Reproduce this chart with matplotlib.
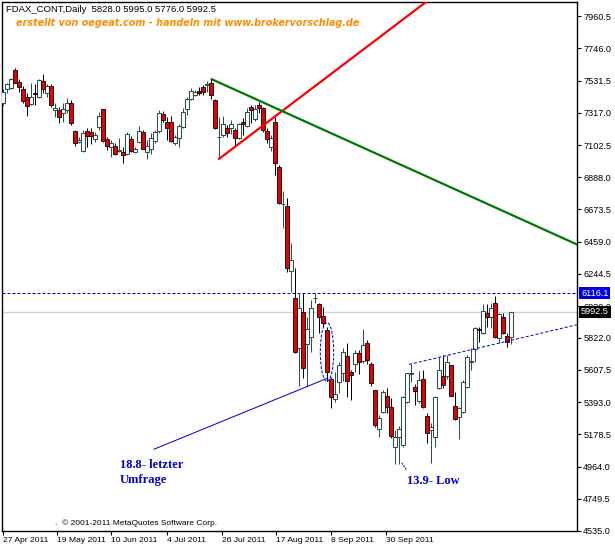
import matplotlib
matplotlib.use("Agg")
import matplotlib.pyplot as plt
from matplotlib.patches import Ellipse
import numpy as np

# FDAX daily candles (bar index 0..127)
opens = [7382, 7477, 7482, 7601, 7522, 7475, 7422, 7375, 7448, 7422,
         7528, 7448, 7495, 7335, 7335, 7315, 7335, 7382, 7196, 7125,
         7063, 7196, 7189, 7142, 7222, 7342, 7142, 7089, 7096, 7063,
         7056, 7043, 7142, 7056, 7123, 7189, 7056, 7076, 7129, 7196,
         7309, 7256, 7256, 7116, 7149, 7222, 7342, 7409, 7435, 7462,
         7488, 7502, 7515, 7402, 7156, 7169, 7216, 7216, 7202, 7149,
         7256, 7229, 7355, 7276, 7369, 7349, 7196, 7089, 7256, 6956,
         6707, 6697, 6265, 6085, 5752, 5992, 5779, 5826, 6082, 6045,
         5965, 5872, 5546, 5413, 5526, 5586, 5699, 5593, 5646, 5719,
         5666, 5786, 5646, 5473, 5214, 5327, 5433, 5360, 5094, 5160,
         5107, 5393, 5576, 5493, 5400, 5546, 5300, 5207, 5160, 5486,
         5566, 5566, 5639, 5367, 5294, 5327, 5493, 5656, 5746, 5879,
         5852, 5985, 5959, 6052, 5819, 5959, 5832, 5828]
highs = [7475, 7515, 7548, 7615, 7542, 7495, 7448, 7515, 7508, 7542,
         7575, 7508, 7508, 7382, 7355, 7382, 7415, 7402, 7202, 7156,
         7202, 7216, 7216, 7189, 7322, 7342, 7156, 7136, 7116, 7149,
         7089, 7189, 7162, 7089, 7229, 7202, 7136, 7182, 7202, 7335,
         7329, 7289, 7295, 7169, 7242, 7349, 7422, 7482, 7468, 7488,
         7502, 7528, 7542, 7409, 7289, 7295, 7236, 7269, 7216, 7249,
         7282, 7349, 7369, 7369, 7389, 7355, 7216, 7169, 7289, 6970,
         6797, 6750, 6451, 6284, 6118, 6118, 5959, 6072, 6118, 6052,
         6025, 5892, 5560, 5593, 5659, 5752, 5786, 5606, 5739, 5739,
         5879, 5806, 5659, 5473, 5307, 5473, 5486, 5420, 5207, 5234,
         5433, 5586, 5646, 5513, 5599, 5606, 5320, 5254, 5433, 5693,
         5706, 5706, 5639, 5460, 5360, 5540, 5706, 5752, 5892, 5892,
         6045, 6045, 6052, 6098, 5985, 5985, 5852, 5995]
lows = [7369, 7448, 7475, 7515, 7455, 7382, 7295, 7369, 7369, 7415,
        7448, 7422, 7355, 7289, 7249, 7256, 7315, 7236, 7096, 7116,
        7056, 7089, 7109, 7123, 7202, 7123, 7069, 7023, 7036, 7056,
        6983, 7036, 7056, 7049, 7116, 7076, 7010, 7043, 7116, 7182,
        7256, 7136, 7123, 7103, 7089, 7216, 7302, 7402, 7428, 7435,
        7435, 7455, 7409, 7209, 7010, 7156, 7156, 7176, 7096, 7142,
        7169, 7222, 7249, 7262, 7315, 7189, 7116, 7063, 6903, 6710,
        6551, 6258, 6125, 5719, 5500, 5553, 5500, 5726, 6052, 5852,
        5892, 5533, 5353, 5393, 5453, 5533, 5427, 5407, 5593, 5580,
        5653, 5646, 5500, 5227, 5160, 5320, 5320, 5154, 4981, 4981,
        5094, 5387, 5526, 5373, 5387, 5353, 5121, 4988, 5094, 5480,
        5486, 5546, 5433, 5274, 5147, 5320, 5486, 5606, 5659, 5792,
        5846, 5892, 5885, 5819, 5786, 5846, 5759, 5776]
closes = [7455, 7508, 7542, 7517, 7490, 7397, 7362, 7424, 7442, 7535,
          7475, 7495, 7369, 7349, 7289, 7342, 7382, 7249, 7116, 7136,
          7182, 7162, 7162, 7169, 7295, 7129, 7096, 7116, 7043, 7069,
          7036, 7176, 7063, 7076, 7196, 7076, 7096, 7149, 7189, 7315,
          7269, 7216, 7129, 7156, 7229, 7322, 7409, 7462, 7455, 7448,
          7455, 7508, 7435, 7216, 7159, 7242, 7182, 7242, 7149, 7242,
          7242, 7322, 7335, 7342, 7349, 7202, 7142, 7149, 6983, 6717,
          6713, 6284, 6338, 5726, 6018, 5619, 5879, 6018, 6088, 5959,
          5919, 5593, 5427, 5446, 5639, 5726, 5533, 5573, 5719, 5659,
          5772, 5673, 5520, 5240, 5287, 5460, 5360, 5167, 5160, 5214,
          5427, 5586, 5583, 5466, 5540, 5360, 5187, 5227, 5427, 5606,
          5506, 5659, 5433, 5280, 5353, 5526, 5693, 5663, 5885, 5872,
          5999, 5959, 6018, 5826, 5979, 5852, 5792, 5992.5]

# price scale labels (as printed by the terminal)
price_ticks = [7960.5, 7746.0, 7531.5, 7317.0, 7102.5, 6888.0, 6673.5, 6459.0,
               6244.5, 6030.0, 5822.0, 5607.5, 5393.0, 5178.5, 4964.0, 4749.5, 4535.0]
date_labels = ["27 Apr 2011", "19 May 2011", "10 Jun 2011", "4 Jul 2011",
               "26 Jul 2011", "17 Aug 2011", "8 Sep 2011", "30 Sep 2011"]
date_idx = [-0.1, 13.4, 27.0, 40.9, 54.7, 68.25, 82.0, 95.75]

# drawn objects (bar index, price)
red_x, red_y = [54, 107], [7010, 8079]
green_x, green_y = [52.2, 143.5], [7540, 6441]
blue_x, blue_y = [37.75, 81.25], [5079, 5553]
support_x, support_y = [101.5, 143.5], [5643, 5907]
lowmark_x, lowmark_y = [99.7, 100.9], [4988, 4941]
ellipse_xy, ellipse_w, ellipse_h = (81.0, 5726), 3.35, 392
high_level = 6116.1
bid = 5992.5

W, H = 615, 548
fig = plt.figure(figsize=(W / 100, H / 100), dpi=100)
ax = fig.add_axes([2 / W, 17 / H, 575 / W, 529 / H])
ax.set_xlim(-0.25, 143.5)
ax.set_ylim(4535.3, 8053.7)

def px(x, y):
    return x / W, 1 - y / H

sans = "Liberation Sans"
px1 = 0.72  # one pixel in points

# horizontal levels
ax.axhline(bid, color="#d3d3d3", lw=1.0, zorder=1)
ax.axhline(high_level, color="#0000a0", lw=px1, ls=(0, (3, 2)), zorder=1)

# candles
x = np.arange(len(opens))
o = np.array(opens); c = np.array(closes)
hi = np.array(highs); lo = np.array(lows)
up = c >= o
bull_col = "#2f4f4f"
ax.vlines(x[up], lo[up], hi[up], color=bull_col, lw=px1, zorder=2)
ax.vlines(x[~up], lo[~up], hi[~up], color="black", lw=px1, zorder=2)
body_lo = np.minimum(o, c)
body_h = np.maximum(np.abs(c - o), 2)
ax.bar(x[up], body_h[up], bottom=body_lo[up], width=0.78, color="white",
       edgecolor=bull_col, linewidth=0.75, zorder=3)
ax.bar(x[~up], body_h[~up], bottom=body_lo[~up], width=0.8, color="#e80000",
       edgecolor="black", linewidth=0.6, zorder=3)

# trend lines and marks
ax.plot(red_x, red_y, color="#ff0000", lw=1.6, zorder=4)
ax.plot(green_x, green_y, color="#007800", lw=1.6, zorder=4)
ax.plot(blue_x, blue_y, color="#0000cc", lw=px1, zorder=4)
ax.plot(support_x, support_y, color="#0000cc", lw=px1, ls=(0, (3, 2)), zorder=4)
ax.plot(lowmark_x, lowmark_y, color="#0000cc", lw=px1, ls=(0, (2, 1)), zorder=4)
ax.add_patch(Ellipse(ellipse_xy, ellipse_w, ellipse_h, fill=False,
                     edgecolor="#0000cc", lw=px1, ls=(0, (3, 1.5)), zorder=4))

# axes styling
for s in ax.spines.values():
    s.set_linewidth(1.0)
    s.set_color("black")
ax.yaxis.tick_right()
ax.set_yticks(price_ticks)
ax.set_yticklabels([f"{v:.1f}" for v in price_ticks])
ax.tick_params(axis="y", direction="out", length=3, width=0.8, pad=1.5,
               labelsize=6.6, colors="black")
ax.set_xticks(date_idx)
ax.set_xticklabels(date_labels)
ax.tick_params(axis="x", direction="out", length=3, width=0.8, pad=1.5,
               labelsize=6.1)
for lab in ax.get_xticklabels() + ax.get_yticklabels():
    lab.set_fontfamily(sans)
for lab in ax.get_xticklabels():
    lab.set_horizontalalignment("left")

# price boxes on the scale
trans = ax.get_yaxis_transform()
ax.text(1.0 + 4 / 575, high_level, f"{high_level:.1f}", transform=trans,
        color="white", fontsize=6.6, family=sans, va="center", ha="left",
        clip_on=False, zorder=6,
        bbox=dict(boxstyle="square,pad=0.18", fc="#0000e0", ec="none"))
ax.text(1.0 + 4 / 575, bid, f"{bid:.1f}", transform=trans,
        color="white", fontsize=6.6, family=sans, va="center", ha="left",
        clip_on=False, zorder=6,
        bbox=dict(boxstyle="square,pad=0.18", fc="black", ec="none"))

# texts
fig.text(*px(6, 10), "FDAX_CONT,Daily  %.1f %.1f %.1f %.1f" % (opens[-1], highs[-1], lows[-1], closes[-1]),
         fontsize=6.8, family=sans, va="center", ha="left")
fig.text(*px(16, 23), "erstellt von oegeat.com - handeln mit www.brokervorschlag.de",
         fontsize=6.9, family="DejaVu Sans", weight="bold", style="italic",
         color="#ff8c00", va="center", ha="left")
fig.text(*px(55, 523), ".  \u00a9 2001-2011 MetaQuotes Software Corp.",
         fontsize=6.0, family=sans, va="center", ha="left")
ann = dict(fontsize=9, family="Liberation Serif", weight="bold", color="#0000cc",
           ha="left", va="baseline")
fig.text(*px(120, 468), "18.8- letzter", **ann)
fig.text(*px(120, 483), "Umfrage", **ann)
fig.text(*px(407, 484), "13.9- Low", **ann)

fig.savefig("out.png", dpi=100)
